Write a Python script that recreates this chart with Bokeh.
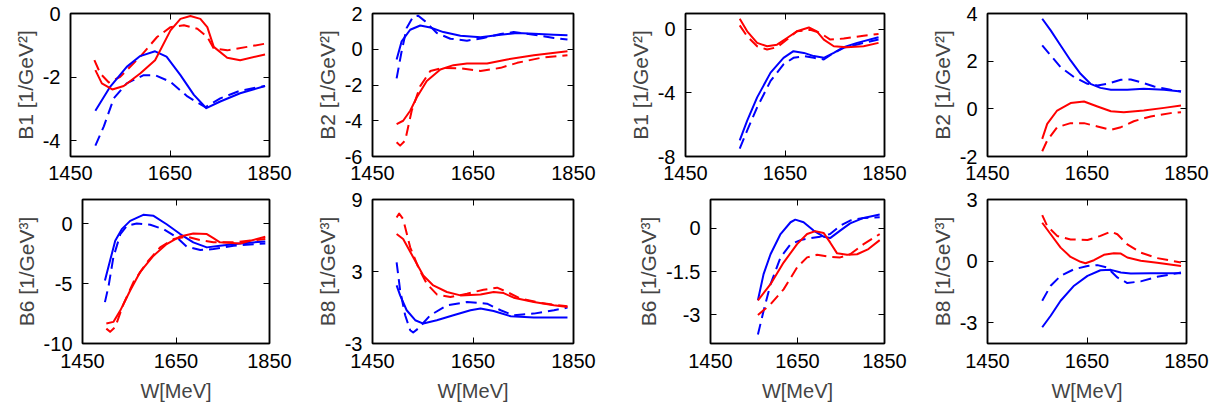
from bokeh.plotting import figure
from bokeh.layouts import column, row
from bokeh.models import FixedTicker, LinearAxis, Range1d
from bokeh.embed import file_html
from bokeh.resources import INLINE

X_TICKS = [1450, 1650, 1850]
X_LABEL = "W[MeV]"

# ---------------- Panel 1 : B1 (left block) ----------------
P1_BS_W = [1500, 1530, 1563, 1590, 1620, 1643, 1671, 1698, 1723, 1751, 1791, 1841]
P1_BS_V = [-3.06, -2.30, -1.68, -1.34, -1.19, -1.36, -1.94, -2.56, -2.98, -2.77, -2.51, -2.28]
P1_BD_W = [1500, 1517, 1537, 1563, 1597, 1620, 1651, 1685, 1721, 1751, 1791, 1841]
P1_BD_V = [-4.16, -3.55, -2.67, -2.20, -1.94, -1.94, -2.15, -2.61, -2.95, -2.67, -2.43, -2.28]
P1_RS_W = [1500, 1513, 1534, 1557, 1590, 1620, 1651, 1671, 1691, 1711, 1725, 1738, 1765, 1791, 1841]
P1_RS_V = [-1.78, -2.20, -2.39, -2.28, -1.89, -1.47, -0.53, -0.17, -0.08, -0.17, -0.43, -1.05, -1.39, -1.47, -1.29]
P1_RD_W = [1498, 1510, 1527, 1550, 1590, 1624, 1651, 1678, 1705, 1725, 1738, 1765, 1805, 1841]
P1_RD_V = [-1.47, -1.89, -2.17, -1.99, -1.36, -0.74, -0.43, -0.37, -0.48, -0.74, -1.10, -1.16, -1.05, -0.95]

# ---------------- Panel 2 : B2 (left block) ----------------
P2_BS_W = [1498, 1508, 1525, 1545, 1565, 1591, 1625, 1665, 1705, 1738, 1771, 1811, 1838]
P2_BS_V = [-0.57, 0.44, 1.09, 1.33, 1.22, 0.96, 0.76, 0.67, 0.81, 0.91, 0.87, 0.81, 0.78]
P2_BD_W = [1498, 1508, 1518, 1531, 1541, 1555, 1578, 1605, 1638, 1671, 1705, 1731, 1771, 1811, 1838]
P2_BD_V = [-1.63, -0.11, 1.19, 1.83, 1.87, 1.56, 0.91, 0.59, 0.48, 0.63, 0.85, 0.96, 0.81, 0.63, 0.54]
P2_RS_W = [1498, 1511, 1525, 1538, 1558, 1585, 1611, 1638, 1678, 1718, 1771, 1838]
P2_RS_V = [-4.19, -4.00, -3.44, -2.70, -1.78, -1.13, -0.89, -0.80, -0.80, -0.57, -0.33, -0.11]
P2_RD_W = [1498, 1505, 1515, 1528, 1545, 1565, 1591, 1625, 1665, 1705, 1738, 1785, 1838]
P2_RD_V = [-5.20, -5.39, -5.11, -3.44, -2.06, -1.22, -1.04, -1.07, -1.22, -1.04, -0.76, -0.48, -0.33]

# ---------------- Panel 3 : B1 (right block) ----------------
P3_BS_W = [1559, 1574, 1594, 1621, 1647, 1667, 1688, 1708, 1728, 1748, 1768, 1795, 1838]
P3_BS_V = [-6.99, -5.74, -4.28, -2.72, -1.79, -1.37, -1.48, -1.68, -1.79, -1.48, -1.12, -0.85, -0.50]
P3_BD_W = [1559, 1574, 1594, 1621, 1647, 1667, 1688, 1708, 1728, 1748, 1768, 1808, 1838]
P3_BD_V = [-7.50, -6.36, -4.91, -3.24, -2.20, -1.79, -1.68, -1.79, -1.89, -1.48, -1.16, -0.85, -0.64]
P3_RS_W = [1559, 1574, 1594, 1614, 1634, 1654, 1674, 1698, 1714, 1728, 1748, 1774, 1808, 1838]
P3_RS_V = [0.67, -0.12, -0.85, -1.06, -0.96, -0.54, -0.12, 0.12, -0.12, -0.64, -1.06, -1.12, -1.06, -0.85]
P3_RD_W = [1559, 1574, 1594, 1614, 1634, 1654, 1674, 1701, 1721, 1741, 1768, 1808, 1838]
P3_RD_V = [0.25, -0.44, -1.06, -1.27, -1.12, -0.64, -0.12, -0.02, -0.23, -0.64, -0.58, -0.40, -0.29]

# ---------------- Panel 4 : B2 (right block) ----------------
P4_BS_W = [1560, 1577, 1597, 1617, 1637, 1657, 1677, 1698, 1731, 1764, 1805, 1839]
P4_BS_V = [3.78, 3.29, 2.66, 2.03, 1.47, 1.05, 0.88, 0.80, 0.80, 0.84, 0.80, 0.73]
P4_BD_W = [1560, 1577, 1597, 1624, 1651, 1671, 1691, 1718, 1738, 1758, 1785, 1818, 1839]
P4_BD_V = [2.66, 2.24, 1.75, 1.33, 1.05, 0.98, 1.05, 1.22, 1.23, 1.12, 0.94, 0.80, 0.73]
P4_RS_W = [1560, 1570, 1590, 1617, 1644, 1671, 1698, 1724, 1764, 1805, 1839]
P4_RS_V = [-1.26, -0.63, -0.07, 0.24, 0.31, 0.10, -0.10, -0.14, -0.07, 0.04, 0.14]
P4_RD_W = [1560, 1570, 1590, 1617, 1644, 1671, 1698, 1718, 1744, 1778, 1818, 1839]
P4_RD_V = [-1.78, -1.33, -0.77, -0.60, -0.60, -0.74, -0.88, -0.77, -0.52, -0.32, -0.18, -0.14]

# ---------------- Panel 5 : B6 (left block) ----------------
P5_BS_W = [1498, 1509, 1520, 1534, 1552, 1580, 1602, 1630, 1659, 1687, 1716, 1744, 1787, 1841]
P5_BS_V = [-4.75, -3.09, -1.44, -0.47, 0.22, 0.72, 0.64, -0.06, -0.88, -1.57, -1.99, -1.85, -1.66, -1.49]
P5_BD_W = [1498, 1506, 1516, 1531, 1545, 1566, 1595, 1623, 1652, 1673, 1702, 1730, 1773, 1841]
P5_BD_V = [-6.55, -5.17, -2.82, -0.88, -0.19, 0.00, -0.11, -0.47, -1.16, -1.93, -2.21, -2.13, -1.85, -1.66]
P5_RS_W = [1501, 1516, 1531, 1552, 1573, 1602, 1630, 1659, 1687, 1716, 1730, 1744, 1787, 1841]
P5_RS_V = [-8.34, -8.20, -7.24, -5.58, -4.06, -2.68, -1.71, -1.08, -0.83, -0.88, -1.22, -1.57, -1.66, -1.10]
P5_RD_W = [1501, 1509, 1520, 1538, 1559, 1588, 1616, 1645, 1673, 1702, 1730, 1773, 1841]
P5_RD_V = [-8.76, -9.03, -8.62, -6.69, -4.89, -3.23, -1.99, -1.30, -1.10, -1.38, -1.57, -1.57, -1.30]

# ---------------- Panel 6 : B8 (left block) ----------------
P6_BS_W = [1498, 1505, 1518, 1535, 1551, 1578, 1611, 1645, 1665, 1691, 1725, 1771, 1838]
P6_BS_V = [1.84, 1.01, -0.23, -1.06, -1.34, -1.06, -0.65, -0.23, -0.09, -0.29, -0.73, -0.84, -0.84]
P6_BD_W = [1498, 1505, 1515, 1525, 1531, 1541, 1565, 1598, 1638, 1678, 1705, 1731, 1771, 1811, 1838]
P6_BD_V = [3.77, 1.43, -0.65, -1.89, -2.08, -1.75, -0.65, 0.18, 0.46, 0.32, -0.23, -0.65, -0.51, -0.23, -0.01]
P6_RS_W = [1498, 1511, 1531, 1551, 1571, 1598, 1625, 1665, 1691, 1711, 1731, 1771, 1811, 1838]
P6_RS_V = [6.12, 5.71, 4.19, 2.67, 1.84, 1.29, 1.01, 1.09, 1.29, 1.20, 0.82, 0.46, 0.18, 0.04]
P6_RD_W = [1498, 1503, 1511, 1525, 1541, 1558, 1578, 1605, 1638, 1671, 1698, 1718, 1745, 1785, 1838]
P6_RD_V = [7.50, 7.83, 7.36, 5.02, 3.36, 1.98, 1.09, 0.87, 1.15, 1.48, 1.65, 1.29, 0.73, 0.38, 0.10]

# ---------------- Panel 7 : B6 (right block) ----------------
P7_BS_W = [1559, 1572, 1588, 1611, 1634, 1645, 1664, 1687, 1710, 1725, 1748, 1771, 1802, 1839]
P7_BS_V = [-2.50, -1.59, -0.90, -0.20, 0.21, 0.30, 0.21, -0.08, -0.29, -0.34, -0.08, 0.17, 0.36, 0.48]
P7_BD_W = [1559, 1572, 1588, 1611, 1634, 1657, 1679, 1702, 1725, 1748, 1771, 1802, 1839]
P7_BD_V = [-3.69, -2.87, -1.94, -1.01, -0.55, -0.41, -0.34, -0.29, -0.20, 0.09, 0.27, 0.36, 0.38]
P7_RS_W = [1559, 1588, 1618, 1649, 1672, 1691, 1710, 1725, 1741, 1764, 1787, 1813, 1839]
P7_RS_V = [-2.50, -1.94, -1.19, -0.55, -0.20, -0.10, -0.16, -0.49, -0.87, -0.92, -0.90, -0.72, -0.41]
P7_RD_W = [1559, 1588, 1618, 1649, 1672, 1695, 1725, 1748, 1771, 1802, 1839]
P7_RD_V = [-3.01, -2.64, -2.12, -1.36, -1.01, -0.92, -0.99, -1.01, -0.90, -0.55, -0.20]

# ---------------- Panel 8 : B8 (right block) ----------------
P8_BS_W = [1560, 1577, 1597, 1624, 1651, 1677, 1698, 1718, 1738, 1778, 1839]
P8_BS_V = [-3.21, -2.65, -1.92, -1.19, -0.71, -0.44, -0.42, -0.55, -0.60, -0.58, -0.58]
P8_BD_W = [1560, 1577, 1597, 1624, 1651, 1671, 1691, 1711, 1731, 1758, 1791, 1839]
P8_BD_V = [-1.92, -1.19, -0.71, -0.39, -0.23, -0.19, -0.31, -0.79, -1.06, -0.98, -0.76, -0.55]
P8_RS_W = [1560, 1577, 1597, 1617, 1637, 1647, 1664, 1684, 1704, 1718, 1731, 1758, 1791, 1839]
P8_RS_V = [1.87, 1.31, 0.66, 0.21, -0.03, -0.10, 0.05, 0.31, 0.39, 0.37, 0.18, 0.02, -0.08, -0.23]
P8_RD_W = [1560, 1570, 1590, 1617, 1651, 1677, 1698, 1711, 1731, 1758, 1791, 1839]
P8_RD_V = [2.24, 1.71, 1.23, 1.06, 1.03, 1.23, 1.44, 1.31, 0.82, 0.42, 0.15, -0.06]

Y_LABELS = ["B1 [1/GeV²]", "B2 [1/GeV²]", "B1 [1/GeV²]", "B2 [1/GeV²]",
            "B6 [1/GeV³]", "B8 [1/GeV³]", "B6 [1/GeV³]", "B8 [1/GeV³]"]
Y_RANGES = [(-4.5, 0), (-6, 2), (-8, 1), (-2, 4),
            (-10, 2), (-3, 9), (-4, 1), (-4, 3)]
Y_TICKS = [[-4, -2, 0], [-6, -4, -2, 0, 2], [-8, -4, 0], [-2, 0, 2, 4],
           [-10, -5, 0], [-3, 3, 9], [-3, -1.5, 0], [-3, 0, 3]]

SERIES = [
    (P1_BS_W, P1_BS_V, P1_BD_W, P1_BD_V, P1_RS_W, P1_RS_V, P1_RD_W, P1_RD_V),
    (P2_BS_W, P2_BS_V, P2_BD_W, P2_BD_V, P2_RS_W, P2_RS_V, P2_RD_W, P2_RD_V),
    (P3_BS_W, P3_BS_V, P3_BD_W, P3_BD_V, P3_RS_W, P3_RS_V, P3_RD_W, P3_RD_V),
    (P4_BS_W, P4_BS_V, P4_BD_W, P4_BD_V, P4_RS_W, P4_RS_V, P4_RD_W, P4_RD_V),
    (P5_BS_W, P5_BS_V, P5_BD_W, P5_BD_V, P5_RS_W, P5_RS_V, P5_RD_W, P5_RD_V),
    (P6_BS_W, P6_BS_V, P6_BD_W, P6_BD_V, P6_RS_W, P6_RS_V, P6_RD_W, P6_RD_V),
    (P7_BS_W, P7_BS_V, P7_BD_W, P7_BD_V, P7_RS_W, P7_RS_V, P7_RD_W, P7_RD_V),
    (P8_BS_W, P8_BS_V, P8_BD_W, P8_BD_V, P8_RS_W, P8_RS_V, P8_RD_W, P8_RD_V),
]

# layout (left border, frame width, right border) per panel; page origin is (0, 0)
COLS = [(70, 199, 31), (72, 201, 37), (75, 199, 26), (77, 199, 36),
        (82, 187, 31), (72, 201, 37), (100, 174, 26), (77, 199, 36)]
ROWS = [(13, 143, 32), (11, 144, 67)]

FONT = "Liberation Sans"
FS = "20px"
YLFS = "21px"
BLUE = "#0000ff"
RED = "#ff0000"
DASH = "11 6"


def fmt(v):
    return str(int(v)) if float(v).is_integer() else str(v)


def style_axis(ax, ticks, show_labels, standoff=10):
    ax.ticker = FixedTicker(ticks=ticks)
    ax.major_label_overrides = {t: fmt(t) for t in ticks}
    ax.major_tick_in = 6
    ax.major_tick_out = 0
    ax.minor_tick_line_color = None
    ax.axis_line_color = "black"
    ax.axis_line_width = 1.5
    ax.major_tick_line_color = "black"
    ax.major_tick_line_width = 1
    if show_labels:
        ax.major_label_text_font = FONT
        ax.major_label_text_font_size = FS
        ax.major_label_text_color = "black"
        ax.major_label_standoff = standoff
    else:
        ax.major_label_text_font_size = "0px"
        ax.major_label_text_color = None
        ax.major_label_standoff = 0


figs = []
for i in range(8):
    lb, fw, rb = COLS[i]
    tb, fh, bb = ROWS[i // 4]
    p = figure(width=lb + fw + rb, height=tb + fh + bb,
               x_range=Range1d(1450, 1850), y_range=Range1d(*Y_RANGES[i]),
               output_backend="svg", toolbar_location=None, tools="",
               min_border_left=lb, min_border_right=rb,
               min_border_top=tb, min_border_bottom=bb)
    p.grid.visible = False
    p.outline_line_color = "black"
    p.outline_line_width = 1.5
    p.background_fill_color = "white"
    p.border_fill_color = "white"

    style_axis(p.xaxis[0], X_TICKS, True, 10 if i >= 4 else 9)
    style_axis(p.yaxis[0], Y_TICKS[i], True)
    p.yaxis[0].axis_label = Y_LABELS[i]
    p.yaxis[0].axis_label_text_font = FONT
    p.yaxis[0].axis_label_text_font_size = YLFS
    p.yaxis[0].axis_label_text_font_style = "normal"
    p.yaxis[0].axis_label_standoff = 3
    if i >= 4:
        p.xaxis[0].axis_label = X_LABEL
        p.xaxis[0].axis_label_text_font = FONT
        p.xaxis[0].axis_label_text_font_size = FS
        p.xaxis[0].axis_label_text_font_style = "normal"
        p.xaxis[0].axis_label_standoff = 9

    ra = LinearAxis()
    style_axis(ra, Y_TICKS[i], False)
    p.add_layout(ra, "right")
    ta = LinearAxis()
    style_axis(ta, X_TICKS, False)
    p.add_layout(ta, "above")

    bsw, bsv, bdw, bdv, rsw, rsv, rdw, rdv = SERIES[i]
    p.line(bdw, bdv, line_color=BLUE, line_width=2, line_dash=DASH, line_join="round")
    p.line(rdw, rdv, line_color=RED, line_width=2, line_dash=DASH, line_join="round")
    p.line(bsw, bsv, line_color=BLUE, line_width=2, line_join="round")
    p.line(rsw, rsv, line_color=RED, line_width=2, line_join="round")
    figs.append(p)

layout = column(row(*figs[:4]), row(*figs[4:]))
open("out.html", "w").write(file_html(layout, INLINE))
